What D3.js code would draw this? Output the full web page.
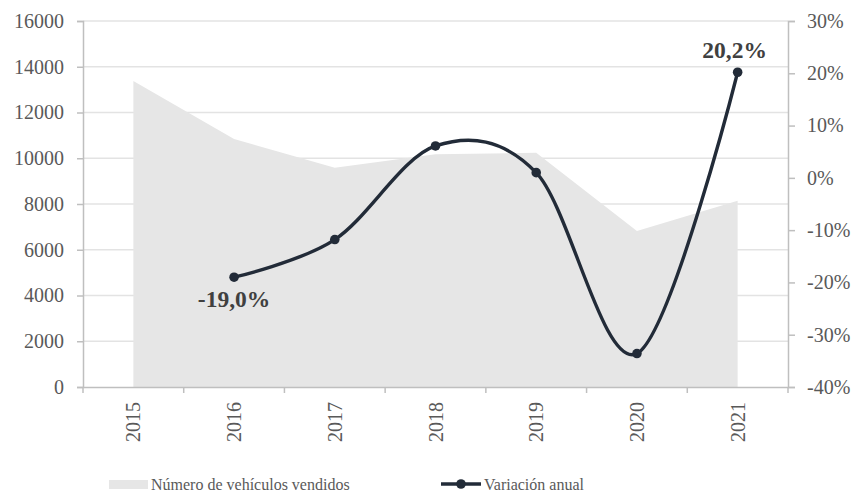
<!DOCTYPE html>
<html>
<head>
<meta charset="utf-8">
<script src="https://cdn.jsdelivr.net/npm/d3@7"></script>
<style>
  body { margin: 0; background: #fff; }
  svg text { font-family: "Liberation Serif", "Times New Roman", serif; }
</style>
</head>
<body>
<svg id="chart" width="853" height="493"></svg>
<script>
const years = ['2015', '2016', '2017', '2018', '2019', '2020', '2021'];
const vehicles = [13380, 10840, 9590, 10170, 10240, 6820, 8140];
const variation = [null, -19.0, -11.8, 6.1, 1.0, -33.6, 20.2];
const leftTicks = [0, 2000, 4000, 6000, 8000, 10000, 12000, 14000, 16000];
const rightTicks = [-40, -30, -20, -10, 0, 10, 20, 30];
const seriesNames = ['Número de vehículos vendidos', 'Variación anual'];

const margin = { top: 21, right: 65, bottom: 106, left: 83 };
const w = 853, h = 493;
const width = w - margin.left - margin.right;
const height = h - margin.top - margin.bottom;

const svg = d3.select('#chart');
const g = svg.append('g').attr('transform', `translate(${margin.left},${margin.top})`);

const x = d3.scaleBand().domain(years).range([0, width]);
const yL = d3.scaleLinear().domain([0, 16000]).range([height, 0]);
const yR = d3.scaleLinear().domain([-40, 30]).range([height, 0]);
const cx = d => x(d) + x.bandwidth() / 2;

// gridlines
g.append('g')
  .selectAll('line')
  .data(leftTicks.slice(1))
  .join('line')
  .attr('x1', 0).attr('x2', width)
  .attr('y1', d => yL(d)).attr('y2', d => yL(d))
  .attr('stroke', '#e3e3e3').attr('stroke-width', 1.3);

// area
const areaData = years.map((yr, i) => ({ year: yr, v: vehicles[i] }));
g.append('path')
  .datum(areaData)
  .attr('fill', '#e6e6e6')
  .attr('d', d3.area().x(d => cx(d.year)).y0(yL(0)).y1(d => yL(d.v)));

// axes
const axisColor = '#bfbfbf';
const axL = g.append('g')
  .call(d3.axisLeft(yL).tickValues(leftTicks).tickFormat(d3.format('d')).tickSize(6).tickPadding(13));
const axR = g.append('g')
  .attr('transform', `translate(${width},0)`)
  .call(d3.axisRight(yR).tickValues(rightTicks).tickFormat(d => d + '%').tickSize(7).tickPadding(12));
const axX = g.append('g')
  .attr('transform', `translate(0,${height})`)
  .call(d3.axisBottom(x).tickSize(0).tickPadding(0));

[axL, axR].forEach(a => {
  a.select('.domain').attr('stroke', axisColor).attr('stroke-width', 1.5);
  a.selectAll('.tick line').attr('stroke', axisColor).attr('stroke-width', 1.5);
  a.selectAll('.tick text').attr('fill', '#595959').style('font-size', '20px');
});

axX.select('.domain').attr('stroke', axisColor).attr('stroke-width', 1.5);
axX.selectAll('.tick text')
  .attr('fill', '#595959').style('font-size', '20px')
  .attr('text-anchor', 'end')
  .attr('dy', '0.35em')
  .attr('transform', 'translate(0,15) rotate(-90)');
// ticks at band boundaries
axX.append('g')
  .selectAll('line')
  .data(d3.range(years.length + 1))
  .join('line')
  .attr('x1', i => i * x.step()).attr('x2', i => i * x.step())
  .attr('y1', 0).attr('y2', 6)
  .attr('stroke', axisColor).attr('stroke-width', 1.5);

// line
const lineColor = '#222b38';
const lineData = years.map((yr, i) => ({ year: yr, v: variation[i] })).filter(d => d.v !== null);
g.append('path')
  .datum(lineData)
  .attr('fill', 'none')
  .attr('stroke', lineColor)
  .attr('stroke-width', 3.4)
  .attr('d', d3.line().x(d => cx(d.year)).y(d => yR(d.v)).curve(d3.curveCardinal.tension(0)));

g.append('g')
  .selectAll('circle')
  .data(lineData)
  .join('circle')
  .attr('cx', d => cx(d.year)).attr('cy', d => yR(d.v))
  .attr('r', 4.8)
  .attr('fill', lineColor);

// labels for first and last
const fmt = v => v.toFixed(1).replace('.', ',') + '%';
const first = lineData[0], last = lineData[lineData.length - 1];
g.append('text')
  .attr('x', cx(first.year)).attr('y', yR(first.v) + 30)
  .attr('text-anchor', 'middle')
  .attr('fill', '#404040').style('font-size', '23.5px').style('font-weight', 'bold')
  .text(fmt(first.v));
g.append('text')
  .attr('x', cx(last.year) - 3).attr('y', yR(last.v) - 14)
  .attr('text-anchor', 'middle')
  .attr('fill', '#404040').style('font-size', '23.5px').style('font-weight', 'bold')
  .text(fmt(last.v));

// legend
const leg = svg.append('g');
leg.append('rect').attr('x', 109).attr('y', 480).attr('width', 39).attr('height', 9).attr('fill', '#e6e6e6');
leg.append('text').attr('x', 151).attr('y', 490).attr('fill', '#595959').style('font-size', '16px').text(seriesNames[0]);
leg.append('line').attr('x1', 441).attr('x2', 481).attr('y1', 484).attr('y2', 484)
  .attr('stroke', lineColor).attr('stroke-width', 3.4);
leg.append('circle').attr('cx', 461).attr('cy', 484).attr('r', 4.8).attr('fill', lineColor);
leg.append('text').attr('x', 484).attr('y', 490).attr('fill', '#595959').style('font-size', '16px').text(seriesNames[1]);
</script>
</body>
</html>
